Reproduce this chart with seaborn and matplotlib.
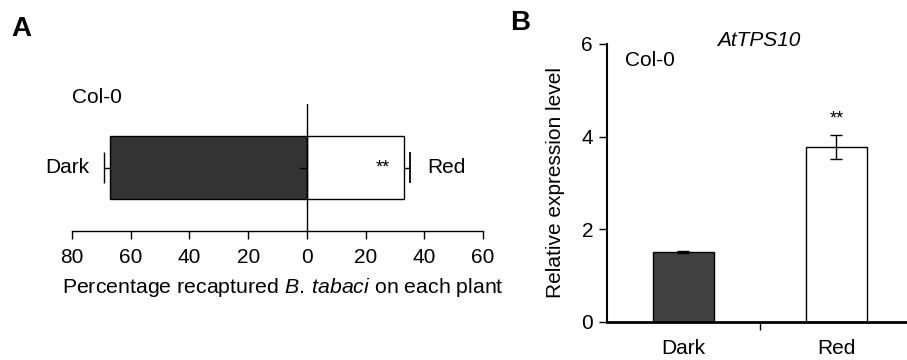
import matplotlib
matplotlib.use("Agg")
import matplotlib.pyplot as plt
import seaborn as sns
import pandas as pd

sns.set_style("ticks")
plt.rcParams['font.family'] = ['Liberation Sans', 'DejaVu Sans']
plt.rcParams['mathtext.fontset'] = 'custom'
plt.rcParams['mathtext.rm'] = 'Liberation Sans'
plt.rcParams['mathtext.it'] = 'Liberation Sans:italic'
for key in ['text.color', 'axes.labelcolor', 'xtick.color', 'ytick.color', 'axes.edgecolor']:
    plt.rcParams[key] = 'black'

# Panel A: recapture choice test
choice_labels = ["Dark", "Red"]
choice_values = [67, 33]          # percent recaptured
choice_err = [2, 2]
choice_ticks = [-80, -60, -40, -20, 0, 20, 40, 60]

# Panel B: AtTPS10 expression
expr_labels = ["Dark", "Red"]
expr_values = [1.51, 3.78]
expr_err = [0.03, 0.26]
expr_ticks = [0, 2, 4, 6]

fig = plt.figure(figsize=(9.07, 3.6), dpi=100)

# ---- Panel A ----
axA = fig.add_axes([0.0794, 0.3583, 0.4531, 0.3528])
signs = [-1, 1]
signed = [s * v for s, v in zip(signs, choice_values)]
dfA = pd.DataFrame({"cond": choice_labels, "signed": signed, "row": ["Col-0"] * 2})
sns.barplot(data=dfA, x="signed", y="row", hue="cond", dodge=False,
            palette={"Dark": "#333333", "Red": "white"}, edgecolor="black",
            linewidth=1, width=0.5, legend=False, ax=axA)
for p in axA.patches:
    p.set_height(1.0)
    p.set_y(-0.5)
# one-sided error bars pointing outward, cap only at the outer end
for s, v, e in zip(signs, choice_values, choice_err):
    axA.hlines(0, s * v, s * (v + e), color="black", lw=1)
    axA.vlines(s * (v + e), -0.25, 0.25, color="black", lw=1.3 if s > 0 else 1)
axA.hlines(0, -choice_err[0] * 1.4, 0, color="black", lw=1)
axA.axvline(0, color="black", lw=1)
axA.set_xlim(-80, 60)
axA.set_ylim(1, -1)
axA.set_xticks(choice_ticks)
axA.set_xticklabels([str(abs(t)) for t in choice_ticks], fontsize=15)
axA.set_yticks([])
axA.set_ylabel("")
axA.tick_params(axis="x", direction="out", length=6, width=1, pad=6)
for s in ["left", "top", "right"]:
    axA.spines[s].set_visible(False)
axA.spines["bottom"].set_linewidth(1)
axA.set_xlabel("Percentage recaptured $\\it{B.\\:tabaci}$ on each plant",
               fontsize=15.3)
axA.xaxis.set_label_coords(0.512, -0.355)
axA.text(-74, 0, "Dark", ha="right", va="center", fontsize=15)
axA.text(41, 0, "Red", ha="left", va="center", fontsize=15)
axA.text(26, 0, "**", ha="center", va="center", fontsize=13)
axA.text(-80, -1.1, "Col-0", ha="left", va="center", fontsize=15)

# ---- Panel B ----
axB = fig.add_axes([0.6692, 0.1056, 0.3374, 0.7722])
dfB = pd.DataFrame({"cond": expr_labels, "val": expr_values})
sns.barplot(data=dfB, x="cond", y="val", hue="cond",
            palette={"Dark": "#404040", "Red": "white"}, edgecolor="black",
            linewidth=1, width=0.4, legend=False, ax=axB)
axB.errorbar(range(len(expr_values)), expr_values, yerr=expr_err, fmt="none",
             ecolor="black", elinewidth=1, capsize=4, capthick=1)
axB.set_xlim(-0.5, 1.5)
axB.set_ylim(0, 6)
axB.set_yticks(expr_ticks)
axB.set_yticklabels([str(t) for t in expr_ticks], fontsize=15)
axB.set_xticks([0, 1])
axB.set_xticklabels(expr_labels, fontsize=15)
axB.set_xticks([0.5], minor=True)
axB.tick_params(axis="x", which="major", length=0, pad=12)
axB.tick_params(axis="x", which="minor", direction="out", length=6, width=1)
axB.tick_params(axis="y", direction="out", length=6, width=1, pad=4)
axB.set_xlabel("")
axB.set_ylabel("Relative expression level", fontsize=15, labelpad=12)
for s in ["top", "right"]:
    axB.spines[s].set_visible(False)
axB.spines["left"].set_linewidth(1.5)
axB.spines["bottom"].set_linewidth(2)
axB.text(1, expr_values[1] + expr_err[1] + 0.15, "**", ha="center",
         va="bottom", fontsize=13)
axB.text(-0.38, 5.65, "Col-0", ha="left", va="center", fontsize=15)
fig.text(0.836, 0.888, "AtTPS10", ha="center", va="center", fontsize=15,
         style="italic")

fig.text(0.013, 0.92, "A", fontsize=20, fontweight="bold", va="center")
fig.text(0.562, 0.935, "B", fontsize=20, fontweight="bold", va="center")

fig.savefig("out.png", dpi=100)
